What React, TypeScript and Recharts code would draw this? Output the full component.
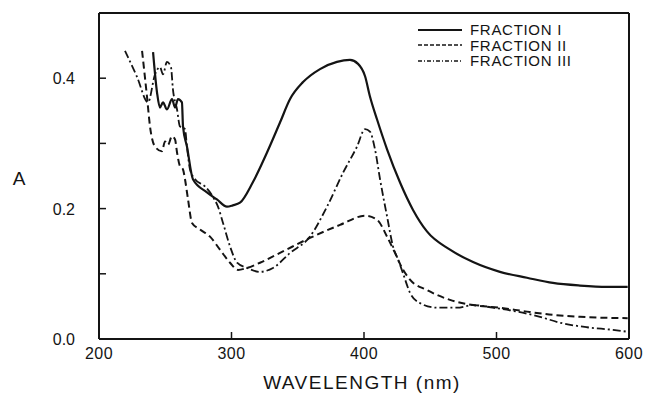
import React from "react";
import { LineChart, Line, XAxis, YAxis, ReferenceLine, Legend } from "recharts";

// wavelength (nm) / absorbance pairs
const fraction1Nm = [240.8, 243.8, 246.0, 248.3, 251.3, 255.1, 257.4, 259.6, 262.6, 263.4, 266.4, 270.9, 281.5, 289, 296.6, 301, 306.4, 316, 326.8, 336.6, 344.2, 354, 366.8, 379.6, 389.4, 395.5, 400.8, 404.5, 409.8, 417.4, 427.2, 437, 447.5, 464.9, 482.3, 502.6, 523, 542.6, 563, 583.4, 599];
const fraction1A = [0.44, 0.378, 0.355, 0.363, 0.352, 0.368, 0.355, 0.368, 0.363, 0.326, 0.295, 0.245, 0.225, 0.214, 0.203, 0.205, 0.209, 0.24, 0.286, 0.332, 0.368, 0.394, 0.414, 0.425, 0.428, 0.422, 0.403, 0.372, 0.337, 0.291, 0.24, 0.198, 0.165, 0.137, 0.118, 0.103, 0.094, 0.086, 0.082, 0.08, 0.08];

const fraction2Nm = [232.5, 236.2, 238.5, 242.3, 247.5, 249.8, 252.1, 255.1, 257.4, 258.9, 261.1, 263.4, 264.9, 267.2, 270.2, 276.2, 283.8, 291.3, 298.9, 304.9, 311.7, 321.5, 336.6, 359.2, 381.9, 400.8, 409.8, 417.4, 423.4, 428.7, 434.7, 447.5, 464.9, 482.3, 502.6, 523, 542.6, 563, 599];
const fraction2A = [0.442, 0.372, 0.326, 0.295, 0.288, 0.303, 0.298, 0.311, 0.306, 0.286, 0.265, 0.26, 0.245, 0.214, 0.178, 0.168, 0.157, 0.137, 0.117, 0.106, 0.109, 0.117, 0.132, 0.155, 0.175, 0.189, 0.183, 0.157, 0.132, 0.109, 0.091, 0.075, 0.06, 0.052, 0.048, 0.042, 0.037, 0.034, 0.032];

const fraction3Nm = [219.6, 228.7, 237.0, 242.3, 246.0, 248.3, 251.3, 254.3, 255.8, 258.9, 261.1, 264.9, 266.4, 268.7, 272.5, 280, 286, 289.8, 293.6, 298.9, 304.2, 311.7, 321.5, 331.3, 344.2, 359.2, 372.1, 384.2, 394.7, 400.8, 404.5, 408.3, 412.1, 417.4, 421.9, 425.7, 429.4, 434.7, 442.3, 455.1, 470.2, 482.3, 497.4, 515.5, 532.8, 547.9, 568.3, 587.9, 599.2];
const fraction3A = [0.442, 0.402, 0.363, 0.406, 0.417, 0.406, 0.425, 0.417, 0.383, 0.352, 0.326, 0.322, 0.295, 0.26, 0.245, 0.234, 0.218, 0.203, 0.178, 0.142, 0.117, 0.109, 0.103, 0.109, 0.132, 0.157, 0.203, 0.255, 0.295, 0.322, 0.318, 0.291, 0.245, 0.188, 0.142, 0.122, 0.101, 0.071, 0.055, 0.048, 0.048, 0.052, 0.048, 0.042, 0.034, 0.025, 0.018, 0.014, 0.011];

const xTicks = [200, 300, 400, 500, 600];
const yTicks = [0, 0.1, 0.2, 0.3, 0.4];
const yLabelled = ["0.0", "", "0.2", "", "0.4"];

const seriesNames = ["FRACTION I", "FRACTION II", "FRACTION III"];

const toRows = (nm: number[], a: number[]) => nm.map((x, i) => ({ nm: x, a: a[i] }));

const INK = "#141414";
const FONT = "'Liberation Sans', Arial, sans-serif";
const dashes = [undefined, "7 4", "8 3 2 3"];

const XTick = (props: any) => {
  const { x, y, payload } = props;
  return (
    <g>
      <line x1={x} y1={y} x2={x} y2={y - 7} stroke={INK} strokeWidth={1.5} />
      <text x={x} y={y + 20} textAnchor="middle" fontSize={16} fill={INK} fontFamily={FONT} letterSpacing={0.5}>
        {payload.value}
      </text>
    </g>
  );
};

const YTick = (props: any) => {
  const { x, y, payload, index } = props;
  return (
    <g>
      <line x1={x} y1={y} x2={x + 7} y2={y} stroke={INK} strokeWidth={1.5} />
      <text x={x - 24} y={y + 6} textAnchor="end" fontSize={16} fill={INK} fontFamily={FONT}>
        {yLabelled[index] ?? payload.value}
      </text>
    </g>
  );
};

const LegendBox = () => (
  <div style={{ fontFamily: FONT, fontSize: 15, color: INK, letterSpacing: 0.7 }}>
    {seriesNames.map((name, i) => (
      <div key={name} style={{ display: "flex", alignItems: "center", height: 15.5 }}>
        <svg width={52} height={10}>
          <line x1={0} y1={5} x2={44} y2={5} stroke={INK} strokeWidth={i === 0 ? 1.8 : 1.4} strokeDasharray={i === 0 ? undefined : i === 1 ? "4 2" : "4 2 1 2"} />
        </svg>
        <span>{name}</span>
      </div>
    ))}
  </div>
);

export default function App() {
  const s1 = toRows(fraction1Nm, fraction1A);
  const s2 = toRows(fraction2Nm, fraction2A);
  const s3 = toRows(fraction3Nm, fraction3A);
  return (
    <div style={{ position: "absolute", left: 0, top: 0, background: "#fff" }}>
      <LineChart width={649} height={400} margin={{ top: 13, right: 20, bottom: 0, left: 0 }}>
        <XAxis
          type="number"
          dataKey="nm"
          domain={[200, 600]}
          ticks={xTicks}
          allowDuplicatedCategory={false}
          height={61}
          tickSize={0}
          tickMargin={0}
          tick={<XTick />}
          axisLine={{ stroke: INK, strokeWidth: 2 }}
          tickLine={false}
          label={(p: any) => (
            <text x={362} y={389} textAnchor="middle" fontSize={19} fill={INK} fontFamily={FONT} letterSpacing={1.5}>
              WAVELENGTH  (nm)
            </text>
          )}
        />
        <YAxis
          type="number"
          dataKey="a"
          domain={[0, 0.5]}
          ticks={yTicks}
          width={99}
          tickSize={0}
          tickMargin={0}
          tick={<YTick />}
          axisLine={{ stroke: INK, strokeWidth: 2 }}
          tickLine={false}
          label={(p: any) => (
            <text x={19} y={185} textAnchor="middle" fontSize={19} fill={INK} fontFamily={FONT}>
              A
            </text>
          )}
        />
        <ReferenceLine y={0.5} stroke={INK} strokeWidth={2} />
        <ReferenceLine x={600} stroke={INK} strokeWidth={2} />
        <Line data={s1} dataKey="a" name={seriesNames[0]} type="monotone" stroke={INK} strokeWidth={2.2} dot={false} isAnimationActive={false} />
        <Line data={s2} dataKey="a" name={seriesNames[1]} type="monotone" stroke={INK} strokeWidth={2} strokeDasharray={dashes[1]} dot={false} isAnimationActive={false} />
        <Line data={s3} dataKey="a" name={seriesNames[2]} type="monotone" stroke={INK} strokeWidth={1.8} strokeDasharray={dashes[2]} dot={false} isAnimationActive={false} />
        <Legend layout="horizontal" verticalAlign="middle" align="center" wrapperStyle={{ top: 22, left: 418, width: "auto" }} content={<LegendBox />} />
      </LineChart>
    </div>
  );
}
